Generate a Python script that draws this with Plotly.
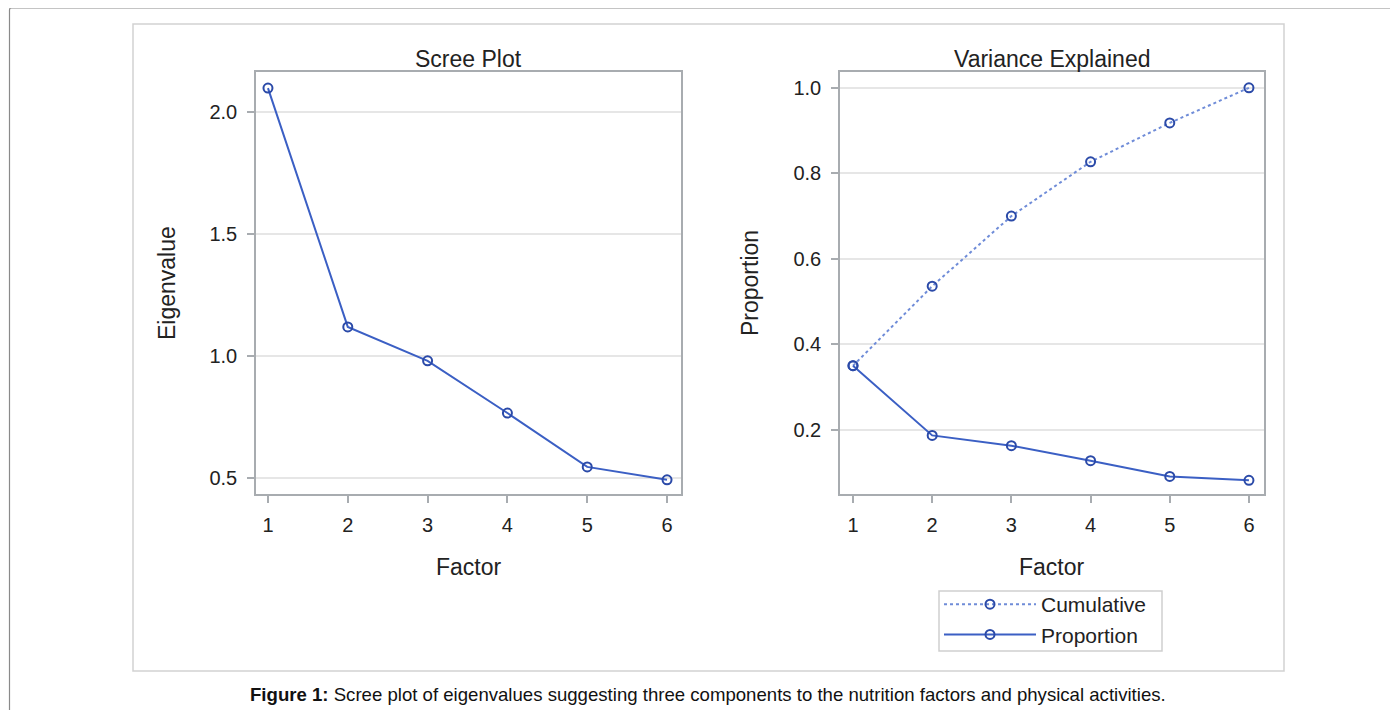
import plotly.graph_objects as go

factors = [1, 2, 3, 4, 5, 6]
eigenvalues = [2.098, 1.119, 0.980, 0.766, 0.545, 0.492]
proportion = [0.350, 0.187, 0.163, 0.128, 0.091, 0.082]
cumulative = [0.350, 0.536, 0.700, 0.827, 0.918, 1.000]
left_yticks = [0.5, 1.0, 1.5, 2.0]
right_yticks = [0.2, 0.4, 0.6, 0.8, 1.0]

OFF = 8  # page body margin
W, H = 1390, 702
FONT = "Liberation Sans, Arial, sans-serif"
MARK = "#2b4aa8"
LINE = "#3b5fc4"
DOT = "#6f8cd8"
FRAME = "#a8acb0"
GRID = "#e6e6e6"
TXT = "#222222"

def px(x):
    return (x - OFF) / W

def py(y):
    return 1 - (y - OFF) / H

fig = go.Figure()

fig.add_trace(go.Scatter(
    x=factors, y=eigenvalues, mode="lines+markers", xaxis="x", yaxis="y",
    line=dict(color=LINE, width=2),
    marker=dict(symbol="circle-open", size=9, color=MARK, line=dict(width=2, color=MARK)),
    showlegend=False))

fig.add_trace(go.Scatter(
    x=factors, y=cumulative, mode="lines+markers", xaxis="x2", yaxis="y2", name="Cumulative",
    line=dict(color=DOT, width=2, dash="dot"),
    marker=dict(symbol="circle-open", size=9, color=MARK, line=dict(width=2, color=MARK))))

fig.add_trace(go.Scatter(
    x=factors, y=proportion, mode="lines+markers", xaxis="x2", yaxis="y2", name="Proportion",
    line=dict(color=LINE, width=2),
    marker=dict(symbol="circle-open", size=9, color=MARK, line=dict(width=2, color=MARK))))

axis_common = dict(showline=True, mirror=True, linecolor=FRAME, linewidth=1.5,
                   ticks="outside", ticklen=7, tickcolor=FRAME, tickwidth=1.5,
                   tickfont=dict(family=FONT, size=20, color=TXT), zeroline=False)

fig.update_layout(
    width=W, height=H,
    margin=dict(l=0, r=0, t=0, b=0),
    paper_bgcolor="white", plot_bgcolor="white",
    font=dict(family=FONT, color=TXT),
    xaxis=dict(domain=[px(256), px(681)], range=[0.85, 6.175], tickvals=factors,
               showgrid=False, anchor="y", ticklabelstandoff=5, **axis_common),
    yaxis=dict(domain=[py(494), py(72)], range=[0.434, 2.164], tickvals=left_yticks,
               ticktext=[f"{v:.1f}" for v in left_yticks], ticklabelstandoff=6,
               showgrid=True, gridcolor=GRID, gridwidth=1.5, anchor="x", **axis_common),
    xaxis2=dict(domain=[px(840), px(1264)], range=[0.836, 6.19], tickvals=factors,
                showgrid=False, anchor="y2", ticklabelstandoff=5, **axis_common),
    yaxis2=dict(domain=[py(494), py(72)], range=[0.05, 1.037], tickvals=right_yticks,
                ticktext=[f"{v:.1f}" for v in right_yticks], ticklabelstandoff=6,
                showgrid=True, gridcolor=GRID, gridwidth=1.5, anchor="x2", **axis_common),
    legend=dict(x=px(939), y=py(584), xanchor="left", yanchor="top",
                borderwidth=0, bgcolor="rgba(0,0,0,0)",
                font=dict(family=FONT, size=21, color=TXT), itemwidth=92,
                tracegroupgap=0),
    showlegend=True,
)

ann = []
def text(x, y, s, size, angle=0):
    ann.append(dict(x=px(x), y=py(y), xref="paper", yref="paper", text=s,
                    showarrow=False, textangle=angle, xanchor="center", yanchor="middle",
                    font=dict(family=FONT, size=size, color=TXT)))

text(468, 59, "Scree Plot", 23)
text(1052, 59, "Variance Explained", 23)
text(469, 567, "Factor", 23)
text(1052, 567, "Factor", 23)
text(167, 283, "Eigenvalue", 23, angle=-90)
text(750, 283, "Proportion", 23, angle=-90)
ann.append(dict(x=px(708), y=py(694), xref="paper", yref="paper",
                text="<b>Figure 1:</b> Scree plot of eigenvalues suggesting three components to the nutrition factors and physical activities.",
                showarrow=False, xanchor="center", yanchor="middle",
                font=dict(family=FONT, size=18.6, color="#111111")))
fig.update_layout(annotations=ann)

fig.update_layout(shapes=[
    dict(type="rect", xref="paper", yref="paper", x0=px(133), x1=px(1284), y0=py(671), y1=py(24),
         line=dict(color="#d2d2d2", width=1.5), fillcolor="rgba(0,0,0,0)", layer="below"),
    dict(type="rect", xref="paper", yref="paper", x0=px(939), x1=px(1162), y0=py(651), y1=py(591),
         line=dict(color="#cfcfcf", width=1.5), fillcolor="white", layer="below"),
    dict(type="path", xref="paper", yref="paper",
         path=f"M {px(9.5)},{py(712)} L {px(9.5)},{py(10)} Q {px(9.5)},{py(8)} {px(11.5)},{py(8)} L {px(1400)},{py(8)}",
         line=dict(color="#8a8a8a", width=1.2)),
])

fig.write_html("out.html")
